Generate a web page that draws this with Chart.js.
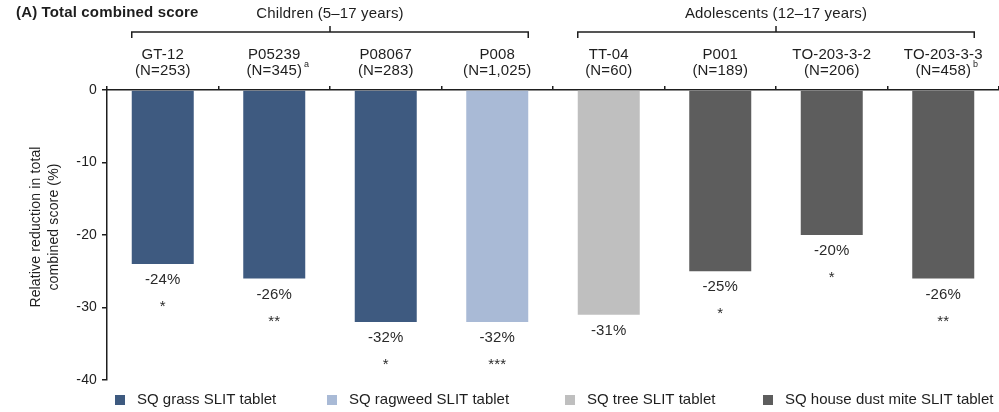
<!DOCTYPE html>
<html>
<head>
<meta charset="utf-8">
<script src="https://cdn.jsdelivr.net/npm/chart.js@4.4.1/dist/chart.umd.min.js"></script>
<style>
  html, body { margin: 0; padding: 0; background: #fff; }
  canvas { display: block; }
</style>
</head>
<body>
<canvas id="chart" width="999" height="412"></canvas>
<script>
// Studies, sample sizes and relative reductions in total combined score
const studies = ['GT-12', 'P05239', 'P08067', 'P008', 'TT-04', 'P001', 'TO-203-3-2', 'TO-203-3-3'];
const sampleSizes = ['N=253', 'N=345', 'N=283', 'N=1,025', 'N=60', 'N=189', 'N=206', 'N=458'];
const footnotes = ['', 'a', '', '', '', '', '', 'b'];
const reductions = [-24, -26, -32, -32, -31, -25, -20, -26];
const significance = ['*', '**', '*', '***', '', '*', '*', '**'];
const tabletIndex = [0, 0, 0, 1, 2, 3, 3, 3];

// Tablet types (legend)
const tablets = ['SQ grass SLIT tablet', 'SQ ragweed SLIT tablet', 'SQ tree SLIT tablet', 'SQ house dust mite SLIT tablet'];
const tabletColors = ['#3E5A80', '#A9BAD6', '#BFBFBF', '#5D5D5D'];

// Age groups spanning the studies
const groupLabels = ['Children (5\u201317 years)', 'Adolescents (12\u201317 years)'];
const groupFirst = [0, 4];
const groupLast = [3, 7];

// Value axis
const yTickValues = [0, -10, -20, -30, -40];
const yTitle = ['Relative reduction in total', 'combined score (%)'];

const FONT = '"Liberation Sans", Arial, Helvetica, sans-serif';
const INK = '#1e1e1e';
Chart.defaults.font.family = FONT;
Chart.defaults.color = INK;

const overlay = {
  id: 'overlay',
  beforeDraw(chart) {
    chart.ctx.letterSpacing = '0.15px';
  },
  afterDraw(chart) {
    const ctx = chart.ctx;
    const xs = chart.scales.x;
    const bars = chart.getDatasetMeta(0).data;
    ctx.save();
    ctx.fillStyle = INK;
    ctx.strokeStyle = INK;
    ctx.textBaseline = 'middle';

    // Panel title
    ctx.font = 'bold 15px ' + FONT;
    ctx.textAlign = 'left';
    ctx.fillText('(A) Total combined score', 16, 13);

    // Value axis title (two rotated lines)
    ctx.save();
    ctx.translate(36, 227);
    ctx.rotate(-Math.PI / 2);
    ctx.font = '14px ' + FONT;
    ctx.textAlign = 'center';
    yTitle.forEach((line, i) => ctx.fillText(line, 0, i * 18));
    ctx.restore();

    // Age-group brackets and labels
    ctx.lineWidth = 1.5;
    groupLabels.forEach((label, g) => {
      const b0 = bars[groupFirst[g]], b1 = bars[groupLast[g]];
      const x0 = b0.x - b0.width / 2;
      const x1 = b1.x + b1.width / 2;
      const mid = (x0 + x1) / 2;
      ctx.beginPath();
      ctx.moveTo(x0, 38); ctx.lineTo(x0, 32); ctx.lineTo(x1, 32); ctx.lineTo(x1, 38);
      ctx.moveTo(mid, 32); ctx.lineTo(mid, 26);
      ctx.stroke();
      ctx.font = '15px ' + FONT;
      ctx.textAlign = 'center';
      ctx.fillText(label, mid, 14);
    });

    // Footnote markers after the sample size
    footnotes.forEach((f, i) => {
      if (!f) return;
      ctx.font = '15px ' + FONT;
      const w = ctx.measureText('(' + sampleSizes[i] + ')').width;
      ctx.font = '9px ' + FONT;
      ctx.textAlign = 'left';
      ctx.fillText(f, xs.getPixelForTick(i) + w / 2 + 2, 65);
    });

    // Value and significance labels under each bar
    bars.forEach((bar, i) => {
      ctx.textAlign = 'center';
      ctx.font = '15px ' + FONT;
      ctx.fillStyle = '#2a2a2a';
      ctx.fillText(reductions[i] + '%', bar.x, bar.y + 16);
      if (significance[i]) ctx.fillText(significance[i], bar.x, bar.y + 43);
    });

    // Legend
    const legendX = [115, 327, 565, 763];
    ctx.letterSpacing = '0px';
    ctx.font = '15px ' + FONT;
    ctx.textAlign = 'left';
    tablets.forEach((t, k) => {
      ctx.fillStyle = tabletColors[k];
      ctx.fillRect(legendX[k], 395, 10, 10);
      ctx.fillStyle = INK;
      ctx.fillText(t, legendX[k] + 22, 400);
    });
    ctx.restore();
  }
};

new Chart(document.getElementById('chart'), {
  type: 'bar',
  data: {
    labels: studies.map((s, i) => [s, '(' + sampleSizes[i] + ')']),
    datasets: [{
      data: reductions,
      backgroundColor: tabletIndex.map(k => tabletColors[k]),
      borderWidth: 0,
      barPercentage: 0.556,
      categoryPercentage: 1
    }]
  },
  options: {
    responsive: false,
    animation: false,
    events: [],
    layout: { padding: { top: 0, left: 0, right: 0, bottom: 32 } },
    plugins: { legend: { display: false }, tooltip: { enabled: false } },
    scales: {
      x: {
        position: 'top',
        offset: true,
        grid: { display: true, offset: true, drawOnChartArea: false, drawTicks: true, tickLength: 4, color: INK, lineWidth: 1.5 },
        border: { display: true, color: INK, width: 1.5 },
        ticks: { font: { size: 15, lineHeight: 16 / 15 }, color: INK, padding: 7, maxRotation: 0, autoSkip: false },
        afterFit: s => { s.height = 90; }
      },
      y: {
        min: -40,
        max: 0,
        afterBuildTicks: s => { s.ticks = yTickValues.map(v => ({ value: v })); },
        ticks: { font: { size: 14 }, color: INK, padding: 5 },
        grid: { drawOnChartArea: false, drawTicks: true, tickLength: 5, color: INK, lineWidth: 1.5 },
        border: { display: true, color: INK, width: 1.5 },
        afterFit: s => { s.width = 107; }
      }
    }
  },
  plugins: [overlay]
});
</script>
</body>
</html>
